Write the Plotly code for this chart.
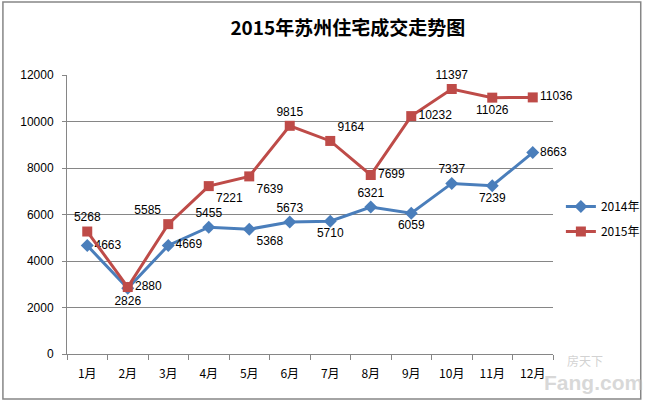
import plotly.graph_objects as go

months = ["1月", "2月", "3月", "4月", "5月", "6月", "7月", "8月", "9月", "10月", "11月", "12月"]
sales_2014 = [4663, 2826, 4669, 5455, 5368, 5673, 5710, 6321, 6059, 7337, 7239, 8663]
sales_2015 = [5268, 2880, 5585, 7221, 7639, 9815, 9164, 7699, 10232, 11397, 11026, 11036]
pos_2014 = ["middle right", "bottom center", "middle right", "top center", "bottom right", "top center",
            "bottom center", "top center", "bottom center", "top center", "bottom center", "middle right"]
pos_2015 = ["top center", "middle right", "top left", "bottom right", "bottom right", "top center",
            "top right", "middle right", "middle right", "top center", "bottom center", "middle right"]

W, H = 657, 405
L, R, T, B = 67, 560, 75, 354

fig = go.Figure()
fig.add_trace(go.Scatter(
    x=months, y=sales_2014, name="2014年", legendgroup="a", mode="lines+markers+text",
    line=dict(color="#4A7EBB", width=3),
    marker=dict(symbol="diamond", size=10, color="#4A7EBB"),
    text=[str(v) for v in sales_2014], textposition=pos_2014,
    textfont=dict(size=12, color="#000000", family="Liberation Sans, Arial"),
    cliponaxis=False,
))
fig.add_trace(go.Scatter(
    x=months, y=sales_2015, name="2015年", legendgroup="b", mode="lines+markers+text",
    line=dict(color="#BE4B48", width=3),
    marker=dict(symbol="square", size=10, color="#BE4B48"),
    text=[str(v) for v in sales_2015], textposition=pos_2015,
    textfont=dict(size=12, color="#000000", family="Liberation Sans, Arial"),
    cliponaxis=False,
))

def px_x(p):
    return (p - L) / (R - L)

def px_y(p):
    return (B - p) / (B - T)

fig.add_shape(type="rect", xref="paper", yref="paper",
              x0=px_x(2), x1=px_x(649), y0=px_y(399), y1=px_y(2),
              line=dict(color="#868686", width=1.5), fillcolor="rgba(0,0,0,0)", layer="below")

fig.add_annotation(text="<b>Fang.com</b>", xref="paper", yref="paper",
                   x=px_x(601), y=px_y(382), showarrow=False,
                   font=dict(size=21, color="rgba(190,190,190,0.6)", family="Liberation Sans, Arial"),
                   xanchor="center", yanchor="middle")
fig.add_annotation(text="房天下", xref="paper", yref="paper",
                   x=px_x(592), y=px_y(360), showarrow=False,
                   font=dict(size=12, color="rgba(190,190,190,0.7)", family="Noto Sans CJK SC"),
                   xanchor="center", yanchor="middle")

fig.update_layout(
    width=W, height=H,
    margin=dict(l=L, r=W - R, t=T, b=H - B),
    paper_bgcolor="white", plot_bgcolor="white",
    title=dict(text="<b>2015年苏州住宅成交走势图</b>", x=px_x(328), xanchor="center",
               y=1 - 28 / H, yanchor="middle",
               font=dict(size=19, color="#000000", family="Noto Sans CJK SC")),
    showlegend=True,
    legend=dict(x=px_x(568), y=px_y(192), xanchor="left", yanchor="top",
                font=dict(size=12, color="#000000", family="Noto Sans CJK SC"),
                bgcolor="rgba(0,0,0,0)", tracegroupgap=6),
    font=dict(family="Noto Sans CJK SC", color="#000000"),
)
fig.update_xaxes(
    type="category", showgrid=False, showline=True, linecolor="#868686", linewidth=1,
    ticks="outside", tickson="boundaries", ticklen=5, tickcolor="#868686",
    tickfont=dict(size=12, color="#000000"), range=[-0.5, 11.5], ticklabelstandoff=9,
)
fig.update_yaxes(
    range=[0, 12000], dtick=2000, tickformat="d", showgrid=True, gridcolor="#868686", gridwidth=1,
    showline=True, linecolor="#868686", linewidth=1, ticks="outside", ticklen=4, tickcolor="#868686",
    tickfont=dict(size=12, color="#000000", family="Liberation Sans, Arial"), zeroline=False,
    ticklabelstandoff=6,
)

fig.write_html("out.html")
